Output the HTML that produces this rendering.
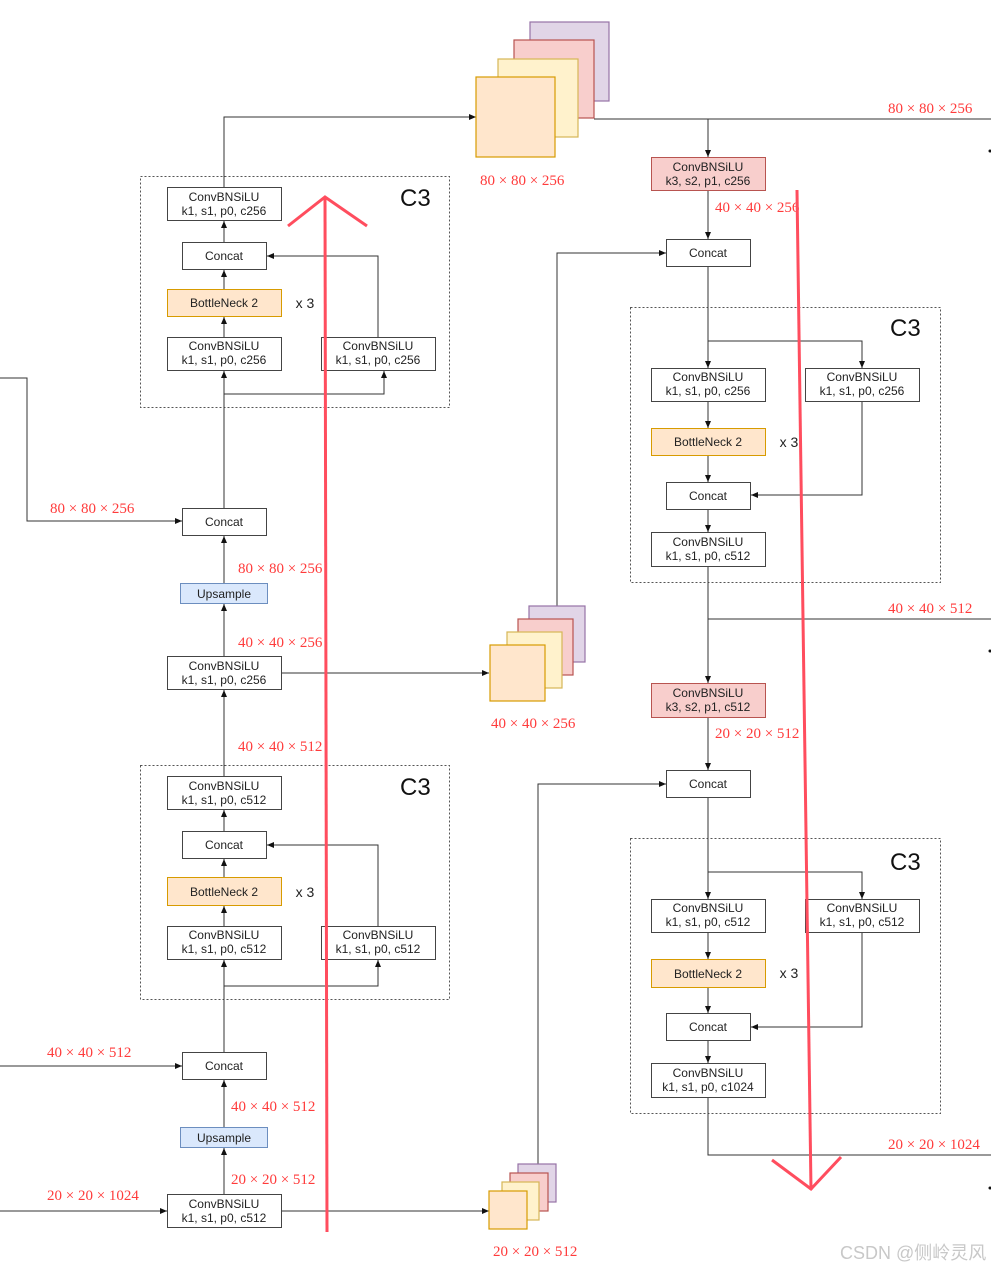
<!DOCTYPE html>
<html><head><meta charset="utf-8"><style>
html,body{margin:0;padding:0;background:#fff;}
svg{display:block;}
.b{fill:#fff;stroke:#444;stroke-width:1;}
.t{font-family:"Liberation Sans",sans-serif;font-size:12px;fill:#222;text-anchor:middle;}
.r{font-family:"Liberation Serif",serif;font-size:15px;fill:#ff3b3b;}
.c3{font-family:"Liberation Sans",sans-serif;font-size:24px;fill:#111;}
.l{stroke:#333;stroke-width:1;fill:none;}
.d{fill:none;stroke:#555;stroke-width:1;stroke-dasharray:2,2;}
.red{stroke:#ff4d5e;stroke-width:3;fill:none;}
</style></head><body>
<svg width="991" height="1271" viewBox="0 0 991 1271" xmlns="http://www.w3.org/2000/svg">
<defs><marker id="a" markerWidth="8" markerHeight="8" refX="7" refY="4" orient="auto" markerUnits="userSpaceOnUse"><path d="M0,1 L7,4 L0,7 Z" fill="#111"/></marker></defs>

<rect class="d" x="140.5" y="176.5" width="309" height="231"/>
<rect class="d" x="140.5" y="765.5" width="309" height="234"/>
<rect class="d" x="630.5" y="307.5" width="310" height="275"/>
<rect class="d" x="630.5" y="838.5" width="310" height="275"/>
<text class="c3" x="400" y="206">C3</text>
<text class="c3" x="400" y="795">C3</text>
<text class="c3" x="890" y="336">C3</text>
<text class="c3" x="890" y="870">C3</text>

<path class="l" d="M224,187 V117 H476" marker-end="url(#a)"/>
<path class="l" d="M224,242 V221" marker-end="url(#a)"/>
<path class="l" d="M224,289 V270" marker-end="url(#a)"/>
<path class="l" d="M224,337 V317" marker-end="url(#a)"/>
<path class="l" d="M378,337 V256 H267" marker-end="url(#a)"/>
<path class="l" d="M224,508 V371" marker-end="url(#a)"/>
<path class="l" d="M224,394 H384 V371" marker-end="url(#a)"/>
<path class="l" d="M0,378 H27 V521 H182" marker-end="url(#a)"/>
<path class="l" d="M224,583 V536" marker-end="url(#a)"/>
<path class="l" d="M224,656 V604" marker-end="url(#a)"/>
<path class="l" d="M281,673 H489" marker-end="url(#a)"/>
<path class="l" d="M224,776 V690" marker-end="url(#a)"/>
<path class="l" d="M224,831 V810" marker-end="url(#a)"/>
<path class="l" d="M224,877 V859" marker-end="url(#a)"/>
<path class="l" d="M224,926 V906" marker-end="url(#a)"/>
<path class="l" d="M378,926 V845 H267" marker-end="url(#a)"/>
<path class="l" d="M224,1052 V960" marker-end="url(#a)"/>
<path class="l" d="M224,986 H378 V960" marker-end="url(#a)"/>
<path class="l" d="M0,1066 H182" marker-end="url(#a)"/>
<path class="l" d="M224,1127 V1080" marker-end="url(#a)"/>
<path class="l" d="M224,1194 V1148" marker-end="url(#a)"/>
<path class="l" d="M0,1211 H167" marker-end="url(#a)"/>
<path class="l" d="M281,1211 H489" marker-end="url(#a)"/>

<path class="l" d="M594,119 H991"/>
<path class="l" d="M708,119 V157" marker-end="url(#a)"/>
<path class="l" d="M708,190 V239" marker-end="url(#a)"/>
<path class="l" d="M557,606 V253 H666" marker-end="url(#a)"/>
<path class="l" d="M708,266 V368" marker-end="url(#a)"/>
<path class="l" d="M708,341 H862 V368" marker-end="url(#a)"/>
<path class="l" d="M708,401 V428" marker-end="url(#a)"/>
<path class="l" d="M708,455 V482" marker-end="url(#a)"/>
<path class="l" d="M862,401 V495 H751" marker-end="url(#a)"/>
<path class="l" d="M708,509 V532" marker-end="url(#a)"/>
<path class="l" d="M708,566 V683" marker-end="url(#a)"/>
<path class="l" d="M708,619 H991"/>
<path class="l" d="M708,717 V770" marker-end="url(#a)"/>
<path class="l" d="M538,1164 V784 H666" marker-end="url(#a)"/>
<path class="l" d="M708,797 V899" marker-end="url(#a)"/>
<path class="l" d="M708,872 H862 V899" marker-end="url(#a)"/>
<path class="l" d="M708,932 V959" marker-end="url(#a)"/>
<path class="l" d="M708,987 V1013" marker-end="url(#a)"/>
<path class="l" d="M862,932 V1027 H751" marker-end="url(#a)"/>
<path class="l" d="M708,1040 V1063" marker-end="url(#a)"/>
<path class="l" d="M708,1097 V1155 H991"/>

<g stroke-width="1.2">
<rect x="530" y="22" width="79" height="79" fill="#e1d5e7" stroke="#9673a6"/>
<rect x="514" y="40" width="80" height="78" fill="#f8cecc" stroke="#b85450"/>
<rect x="498" y="59" width="80" height="78" fill="#fff2cc" stroke="#d6b656"/>
<rect x="476" y="77" width="79" height="80" fill="#ffe6cc" stroke="#d79b00"/>
<rect x="529" y="606" width="56" height="56" fill="#e1d5e7" stroke="#9673a6"/>
<rect x="518" y="619" width="55" height="56" fill="#f8cecc" stroke="#b85450"/>
<rect x="507" y="632" width="55" height="56" fill="#fff2cc" stroke="#d6b656"/>
<rect x="490" y="645" width="55" height="56" fill="#ffe6cc" stroke="#d79b00"/>
<rect x="518" y="1164" width="38" height="38" fill="#e1d5e7" stroke="#9673a6"/>
<rect x="510" y="1173" width="38" height="38" fill="#f8cecc" stroke="#b85450"/>
<rect x="502" y="1182" width="37" height="38" fill="#fff2cc" stroke="#d6b656"/>
<rect x="489" y="1191" width="38" height="38" fill="#ffe6cc" stroke="#d79b00"/>
</g>

<rect class="b" x="167.5" y="187.5" width="114" height="33"/><text class="t" x="224" y="201">ConvBNSiLU</text><text class="t" x="224" y="215">k1, s1, p0, c256</text>
<rect class="b" x="182.5" y="242.5" width="84" height="27"/><text class="t" x="224" y="260">Concat</text>
<rect x="167.5" y="289.5" width="114" height="27" fill="#ffe6cc" stroke="#d79b00"/><text class="t" x="224" y="307">BottleNeck 2</text>
<text class="t" x="305" y="308" style="font-size:14px">x 3</text>
<rect class="b" x="167.5" y="337.5" width="114" height="33"/><text class="t" x="224" y="350">ConvBNSiLU</text><text class="t" x="224" y="364">k1, s1, p0, c256</text>
<rect class="b" x="321.5" y="337.5" width="114" height="33"/><text class="t" x="378" y="350">ConvBNSiLU</text><text class="t" x="378" y="364">k1, s1, p0, c256</text>
<rect class="b" x="182.5" y="508.5" width="84" height="27"/><text class="t" x="224" y="526">Concat</text>
<rect x="180.5" y="583.5" width="87" height="20" fill="#dae8fc" stroke="#6c8ebf"/><text class="t" x="224" y="598">Upsample</text>
<rect class="b" x="167.5" y="656.5" width="114" height="33"/><text class="t" x="224" y="670">ConvBNSiLU</text><text class="t" x="224" y="684">k1, s1, p0, c256</text>
<rect class="b" x="167.5" y="776.5" width="114" height="33"/><text class="t" x="224" y="790">ConvBNSiLU</text><text class="t" x="224" y="804">k1, s1, p0, c512</text>
<rect class="b" x="182.5" y="831.5" width="84" height="27"/><text class="t" x="224" y="849">Concat</text>
<rect x="167.5" y="877.5" width="114" height="28" fill="#ffe6cc" stroke="#d79b00"/><text class="t" x="224" y="896">BottleNeck 2</text>
<text class="t" x="305" y="897" style="font-size:14px">x 3</text>
<rect class="b" x="167.5" y="926.5" width="114" height="33"/><text class="t" x="224" y="939">ConvBNSiLU</text><text class="t" x="224" y="953">k1, s1, p0, c512</text>
<rect class="b" x="321.5" y="926.5" width="114" height="33"/><text class="t" x="378" y="939">ConvBNSiLU</text><text class="t" x="378" y="953">k1, s1, p0, c512</text>
<rect class="b" x="182.5" y="1052.5" width="84" height="27"/><text class="t" x="224" y="1070">Concat</text>
<rect x="180.5" y="1127.5" width="87" height="20" fill="#dae8fc" stroke="#6c8ebf"/><text class="t" x="224" y="1142">Upsample</text>
<rect class="b" x="167.5" y="1194.5" width="114" height="33"/><text class="t" x="224" y="1208">ConvBNSiLU</text><text class="t" x="224" y="1222">k1, s1, p0, c512</text>

<rect x="651.5" y="157.5" width="114" height="33" fill="#f8cecc" stroke="#b85450"/><text class="t" x="708" y="171">ConvBNSiLU</text><text class="t" x="708" y="185">k3, s2, p1, c256</text>
<rect class="b" x="666.5" y="239.5" width="84" height="27"/><text class="t" x="708" y="257">Concat</text>
<rect class="b" x="651.5" y="368.5" width="114" height="33"/><text class="t" x="708" y="381">ConvBNSiLU</text><text class="t" x="708" y="395">k1, s1, p0, c256</text>
<rect class="b" x="805.5" y="368.5" width="114" height="33"/><text class="t" x="862" y="381">ConvBNSiLU</text><text class="t" x="862" y="395">k1, s1, p0, c256</text>
<rect x="651.5" y="428.5" width="114" height="27" fill="#ffe6cc" stroke="#d79b00"/><text class="t" x="708" y="446">BottleNeck 2</text>
<text class="t" x="789" y="447" style="font-size:14px">x 3</text>
<rect class="b" x="666.5" y="482.5" width="84" height="27"/><text class="t" x="708" y="500">Concat</text>
<rect class="b" x="651.5" y="532.5" width="114" height="34"/><text class="t" x="708" y="546">ConvBNSiLU</text><text class="t" x="708" y="560">k1, s1, p0, c512</text>
<rect x="651.5" y="683.5" width="114" height="34" fill="#f8cecc" stroke="#b85450"/><text class="t" x="708" y="697">ConvBNSiLU</text><text class="t" x="708" y="711">k3, s2, p1, c512</text>
<rect class="b" x="666.5" y="770.5" width="84" height="27"/><text class="t" x="708" y="788">Concat</text>
<rect class="b" x="651.5" y="899.5" width="114" height="33"/><text class="t" x="708" y="912">ConvBNSiLU</text><text class="t" x="708" y="926">k1, s1, p0, c512</text>
<rect class="b" x="805.5" y="899.5" width="114" height="33"/><text class="t" x="862" y="912">ConvBNSiLU</text><text class="t" x="862" y="926">k1, s1, p0, c512</text>
<rect x="651.5" y="959.5" width="114" height="28" fill="#ffe6cc" stroke="#d79b00"/><text class="t" x="708" y="978">BottleNeck 2</text>
<text class="t" x="789" y="978" style="font-size:14px">x 3</text>
<rect class="b" x="666.5" y="1013.5" width="84" height="27"/><text class="t" x="708" y="1031">Concat</text>
<rect class="b" x="651.5" y="1063.5" width="114" height="34"/><text class="t" x="708" y="1077">ConvBNSiLU</text><text class="t" x="708" y="1091">k1, s1, p0, c1024</text>

<text class="r" x="480" y="185">80 × 80 × 256</text>
<text class="r" x="888" y="113">80 × 80 × 256</text>
<text class="r" x="715" y="212">40 × 40 × 256</text>
<text class="r" x="50" y="513">80 × 80 × 256</text>
<text class="r" x="238" y="573">80 × 80 × 256</text>
<text class="r" x="238" y="647">40 × 40 × 256</text>
<text class="r" x="491" y="728">40 × 40 × 256</text>
<text class="r" x="888" y="613">40 × 40 × 512</text>
<text class="r" x="715" y="738">20 × 20 × 512</text>
<text class="r" x="238" y="751">40 × 40 × 512</text>
<text class="r" x="47" y="1057">40 × 40 × 512</text>
<text class="r" x="231" y="1111">40 × 40 × 512</text>
<text class="r" x="231" y="1184">20 × 20 × 512</text>
<text class="r" x="47" y="1200">20 × 20 × 1024</text>
<text class="r" x="493" y="1256">20 × 20 × 512</text>
<text class="r" x="888" y="1149">20 × 20 × 1024</text>

<circle cx="990" cy="151" r="1.5" fill="#111"/>
<circle cx="990" cy="651" r="1.5" fill="#111"/>
<circle cx="990" cy="1188" r="1.5" fill="#111"/>

<path class="red" d="M327,1232 L325,197"/>
<path class="red" d="M288,226 L325,197 L367,226"/>
<path class="red" d="M797,190 L811,1190"/>
<path class="red" d="M772,1160 L811,1189 L841,1157"/>

<text x="840" y="1259" style="font-family:'Liberation Sans','Noto Sans CJK SC',sans-serif;font-size:18px;fill:#c8c8c8">CSDN @侧岭灵风</text>
</svg>
</body></html>
